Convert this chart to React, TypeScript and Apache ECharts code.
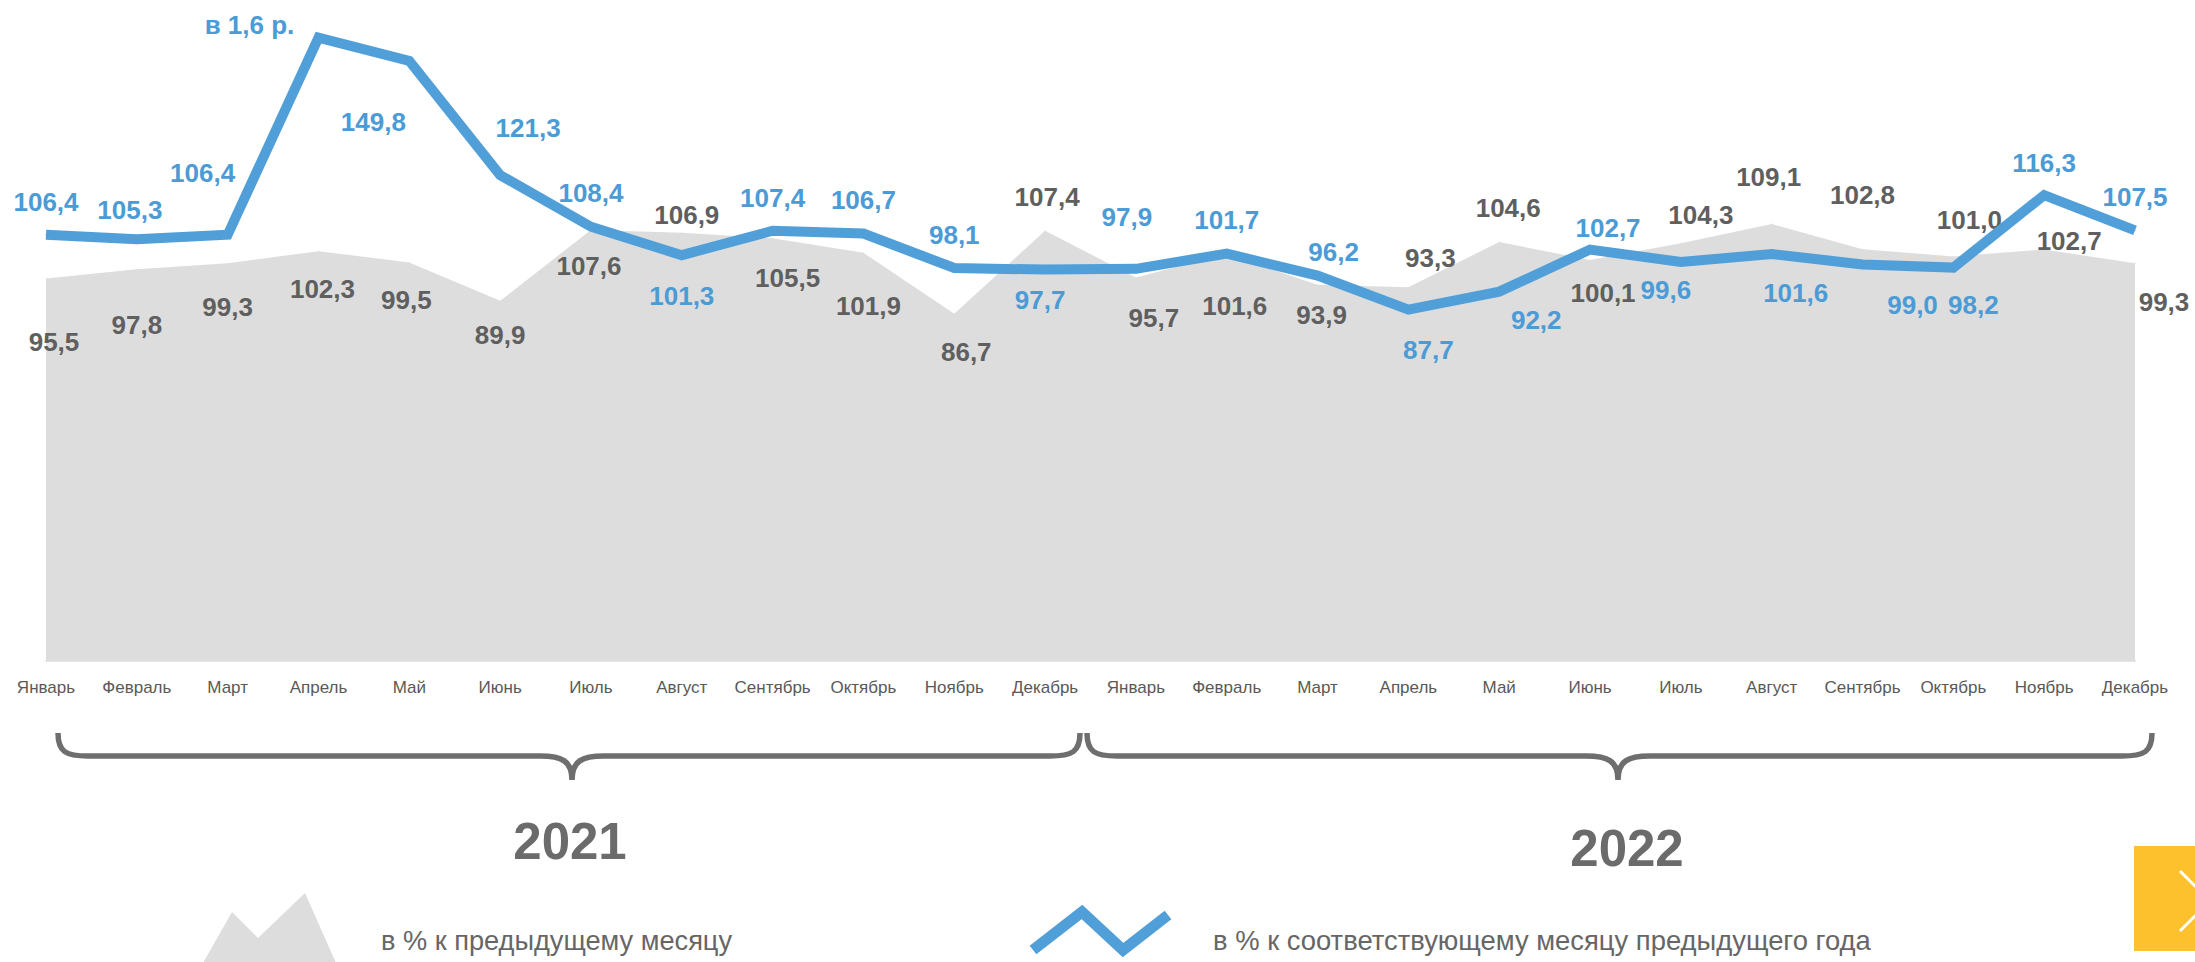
import React, { useEffect, useRef } from "react";
import * as echarts from "echarts";

const months = ["Январь", "Февраль", "Март", "Апрель", "Май", "Июнь", "Июль", "Август", "Сентябрь", "Октябрь", "Ноябрь", "Декабрь"];
const categories = [...months, ...months];
const years = ["2021", "2022"];

// в % к соответствующему месяцу предыдущего года
const yoy = [106.4, 105.3, 106.4, 155.6, 149.8, 121.3, 108.4, 101.3, 107.4, 106.7, 98.1, 97.7,
  97.9, 101.7, 96.2, 87.7, 92.2, 102.7, 99.6, 101.6, 99.0, 98.2, 116.3, 107.5];
// в % к предыдущему месяцу
const mom = [95.5, 97.8, 99.3, 102.3, 99.5, 89.9, 107.6, 106.9, 105.5, 101.9, 86.7, 107.4,
  95.7, 101.6, 93.9, 93.3, 104.6, 100.1, 104.3, 109.1, 102.8, 101.0, 102.7, 99.3];
const specialLabels: Record<number, string> = { 3: "в 1,6 р." };

const legendNames = ["в % к предыдущему месяцу", "в % к соответствующему месяцу предыдущего года"];

// label placement (styling)
const yoyOffsets = [[0, -33], [-7, -29], [-25, -62], [-69, -13], [-36, 61], [28, -47], [0, -34], [0, 41], [0, -33], [0, -34], [0, -33], [-5, 30],
  [-9, -52], [0, -34], [16, -24], [20, 40], [37, 28], [18, -22], [-15, 28], [24, 39], [50, 41], [20, 37], [0, -32], [0, -33]];
const momOffsets = [[8, 64], [0, 56], [0, 44], [4, 38], [-3, 38], [0, 34], [-2, 36], [5, -18], [15, 40], [5, 53], [12, 38], [2, -34],
  [18, 40], [8, 52], [4, 30], [22, -29], [9, -34], [13, 33], [20, -28], [-3, -47], [0, -54], [16, -36], [25, -9], [29, 39]];

const BLUE = "#519fd8";
const GRAY_TXT = "#5f5f5f";
const FONT = "'Liberation Sans', Arial, sans-serif";

const fmt = (v: number) => v.toFixed(1).replace(".", ",");

function bracePath(x1: number, x2: number, xm: number, yTop: number, yMid: number, yTip: number) {
  return `M ${x1} ${yTop} C ${x1} ${yMid - 4} ${x1 + 8} ${yMid} ${x1 + 30} ${yMid} L ${xm - 32} ${yMid} C ${xm - 10} ${yMid} ${xm} ${yMid + 5} ${xm} ${yTip} C ${xm} ${yMid + 5} ${xm + 10} ${yMid} ${xm + 32} ${yMid} L ${x2 - 30} ${yMid} C ${x2 - 8} ${yMid} ${x2} ${yMid - 4} ${x2} ${yTop}`;
}

let registered = false;
function registerShapes() {
  if (registered) return;
  registered = true;
  echarts.graphic.registerShape("brace1", echarts.graphic.extendPath(bracePath(58, 1080, 572, 733, 756, 780), {}));
  echarts.graphic.registerShape("brace2", echarts.graphic.extendPath(bracePath(1087, 2152, 1618, 733, 756, 780), {}));
}

export default function App() {
  const ref = useRef<HTMLDivElement>(null);
  useEffect(() => {
    if (!ref.current) return;
    registerShapes();
    const chart = echarts.init(ref.current, null, { renderer: "svg" });
    const yoyData = yoy.map((v, i) => ({
      value: v,
      label: { offset: yoyOffsets[i] },
    }));
    const momData = mom.map((v, i) => ({
      value: v,
      label: { offset: momOffsets[i] },
    }));
    chart.setOption({
      animation: false,
      backgroundColor: "#ffffff",
      grid: { left: 46, right: 60, top: 0, bottom: 301 },
      xAxis: {
        type: "category",
        data: categories,
        boundaryGap: false,
        axisLine: { show: true, lineStyle: { color: "#e6e6e6", width: 2 } },
        axisTick: { show: false },
        axisLabel: { color: "#595959", fontSize: 17, fontFamily: FONT, margin: 18, interval: 0 },
        splitLine: { show: false },
      },
      yAxis: {
        type: "value",
        min: 0,
        max: 165,
        show: false,
        splitLine: { show: false },
      },
      series: [
        {
          type: "line",
          name: legendNames[0],
          data: momData,
          symbol: "circle",
          symbolSize: 1,
          showSymbol: true,
          showAllSymbol: true,
          itemStyle: { color: "#dddddd" },
          lineStyle: { width: 0, color: "#dddddd" },
          areaStyle: { color: "#dddddd", opacity: 1 },
          label: {
            show: true,
            position: "inside",
            color: GRAY_TXT,
            fontSize: 26,
            fontWeight: "bold",
            fontFamily: FONT,
            formatter: (p: any) => fmt(p.value),
          },
          z: 1,
        },
        {
          type: "line",
          name: legendNames[1],
          data: yoyData,
          symbol: "circle",
          symbolSize: 1,
          showSymbol: true,
          showAllSymbol: true,
          itemStyle: { color: BLUE },
          lineStyle: { width: 10, color: BLUE, join: "miter" },
          label: {
            show: true,
            position: "inside",
            color: "#4a9bd6",
            fontSize: 26,
            fontWeight: "bold",
            fontFamily: FONT,
            formatter: (p: any) => specialLabels[p.dataIndex] ?? fmt(p.value),
          },
          z: 2,
        },
      ],
      graphic: [
        { type: "brace1", x: 0, y: 0, style: { fill: "none", stroke: "#6e6e6e", lineWidth: 5.5 }, silent: true },
        { type: "brace2", x: 0, y: 0, style: { fill: "none", stroke: "#6e6e6e", lineWidth: 5.5 }, silent: true },
        {
          type: "text", x: 570, y: 841,
          style: { text: years[0], fill: "#6b6b6b", font: `bold 51px ${FONT}`, align: "center", verticalAlign: "middle" },
        },
        {
          type: "text", x: 1627, y: 848,
          style: { text: years[1], fill: "#6b6b6b", font: `bold 51px ${FONT}`, align: "center", verticalAlign: "middle" },
        },
        {
          type: "polygon",
          shape: { points: [[203, 963], [232, 912], [258, 938], [305, 893], [336, 963]] },
          style: { fill: "#dddddd" },
        },
        {
          type: "text", x: 381, y: 940,
          style: { text: legendNames[0], fill: "#666666", font: `27.2px ${FONT}`, align: "left", verticalAlign: "middle" },
        },
        {
          type: "polyline",
          shape: { points: [[1033, 950], [1082, 912], [1123, 950], [1168, 915]] },
          style: { stroke: BLUE, lineWidth: 11, fill: "none", lineJoin: "miter" },
        },
        {
          type: "text", x: 1213, y: 940,
          style: { text: legendNames[1], fill: "#666666", font: `27.4px ${FONT}`, align: "left", verticalAlign: "middle" },
        },
        {
          type: "rect",
          shape: { x: 2134, y: 846, width: 61, height: 105 },
          style: { fill: "#fdc12d" },
        },
        {
          type: "polyline",
          shape: { points: [[2180, 871], [2210, 901], [2180, 931]] },
          style: { stroke: "#ffffff", lineWidth: 3, fill: "none" },
        },
      ],
    });
    return () => chart.dispose();
  }, []);
  return (
    <div
      ref={ref}
      style={{ position: "absolute", left: 0, top: 0, width: 2195, height: 962, background: "#fff" }}
    />
  );
}
